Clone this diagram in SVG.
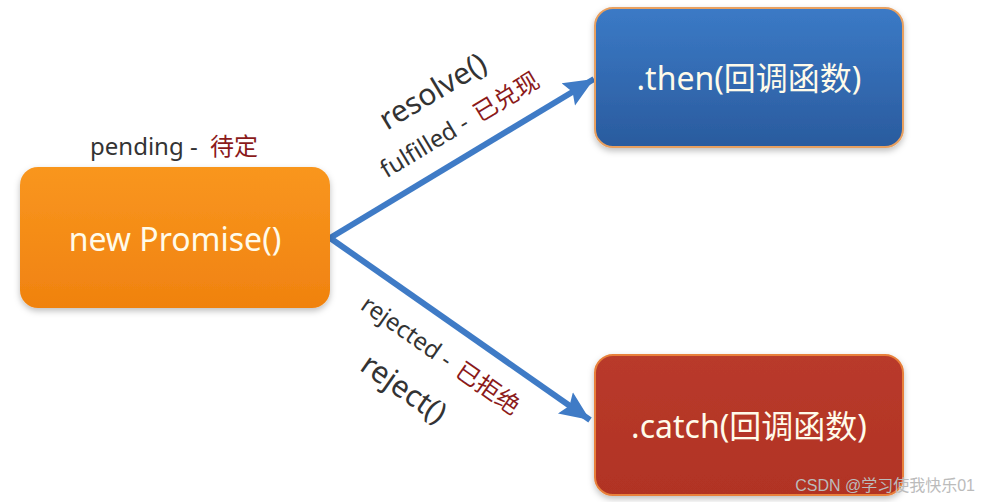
<svg xmlns="http://www.w3.org/2000/svg" width="982" height="502" viewBox="0 0 982 502">
<style>
text{font-family:"Noto Sans","Noto Sans CJK SC",sans-serif;}
.lbl{font-size:24px;fill:#333333;}
.big{font-size:30px;}
.cn{fill:#8B1A1A;}
.node{font-size:32px;fill:#FFFBEA;text-anchor:middle;dominant-baseline:central;}
.conn{stroke:#3F7BC6;stroke-width:6;fill:none;}
</style>
<defs>
<linearGradient id="gOrange" x1="0" y1="0" x2="0" y2="1">
<stop offset="0" stop-color="#F9961F"/><stop offset="1" stop-color="#F0820F"/>
</linearGradient>
<linearGradient id="gBlue" x1="0" y1="0" x2="0" y2="1">
<stop offset="0" stop-color="#3B7AC6"/><stop offset="1" stop-color="#2A5B9E"/>
</linearGradient>
<linearGradient id="gRed" x1="0" y1="0" x2="0" y2="1">
<stop offset="0" stop-color="#B93A2B"/><stop offset="1" stop-color="#B13324"/>
</linearGradient>
<filter id="sh" x="-10%" y="-10%" width="120%" height="130%">
<feDropShadow dx="0" dy="3" stdDeviation="3" flood-color="#000" flood-opacity="0.25"/>
</filter>
<marker id="ah" markerUnits="userSpaceOnUse" markerWidth="32" markerHeight="32" viewBox="0 0 32 32" refX="30" refY="16" orient="auto">
<path d="M0,3 L30,16 L0,29 L5,16 Z" fill="#3F7BC6"/>
</marker>
</defs>
<g id="connectors">
<line class="conn" x1="330" y1="238" x2="594" y2="79" marker-end="url(#ah)"/>
<line class="conn" x1="330" y1="238" x2="590" y2="420" marker-end="url(#ah)"/>
</g>
<g id="promise">
<rect x="20" y="167" width="310" height="141" rx="18" fill="url(#gOrange)" filter="url(#sh)"/>
<text class="node" x="175" y="238">new Promise()</text>
</g>
<g id="then">
<rect x="595" y="8" width="308" height="139" rx="18" fill="url(#gBlue)" stroke="#E8A060" stroke-width="2" filter="url(#sh)"/>
<text class="node" x="749" y="77">.then(回调函数)</text>
</g>
<g id="catch">
<rect x="595" y="355" width="308" height="140" rx="18" fill="url(#gRed)" stroke="#E8803A" stroke-width="2" filter="url(#sh)"/>
<text class="node" x="749" y="425">.catch(回调函数)</text>
</g>
<g id="labels">
<text class="lbl" x="90" y="155">pending - <tspan class="cn" dx="6">待定</tspan></text>
<text class="lbl big" x="0" y="0" text-anchor="middle" transform="translate(438,100) rotate(-31)">resolve()</text>
<text class="lbl" x="0" y="0" text-anchor="middle" transform="translate(464,132) rotate(-31)">fulfilled - <tspan class="cn" dx="4">已兑现</tspan></text>
<text class="lbl" x="0" y="0" text-anchor="middle" transform="translate(436,362) rotate(35)">rejected - <tspan class="cn" dx="4">已拒绝</tspan></text>
<text class="lbl big" x="0" y="0" text-anchor="middle" transform="translate(398,397) rotate(35)">reject()</text>
</g>
<text x="975" y="491" text-anchor="end" font-size="16" fill="#BBBBBB" style="font-family:'Liberation Sans','Noto Sans CJK SC',sans-serif">CSDN @学习使我快乐01</text>
</svg>
